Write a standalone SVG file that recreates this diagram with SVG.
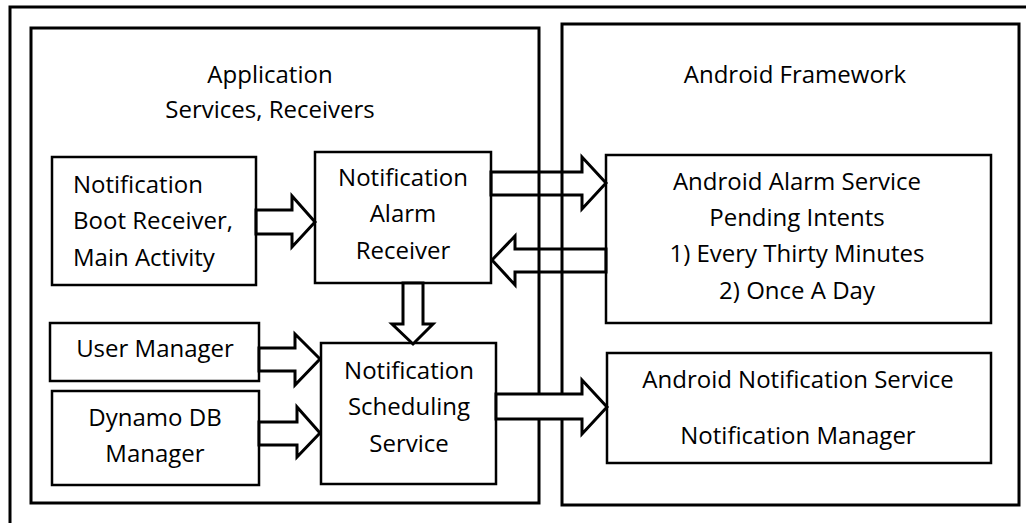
<svg xmlns="http://www.w3.org/2000/svg" width="1026" height="523" viewBox="0 0 1026 523">
<style>
.box{fill:#fff;stroke:#000;stroke-width:2.5}
.cont{fill:none;stroke:#000;stroke-width:3}
.arr{fill:none;stroke:#000;stroke-width:3;stroke-linejoin:miter}
.arrw{fill:#fff;stroke:#000;stroke-width:3;stroke-linejoin:miter}
text{font-family:"Open Sans","Noto Sans",sans-serif;font-size:24px;fill:#000}
.c{text-anchor:middle}
</style>
<rect width="1026" height="523" fill="#fff"/>
<g id="outer"><rect class="cont" x="10" y="7" width="1040" height="540"/></g>
<g id="application">
<rect class="cont" x="31" y="28" width="508" height="475"/>
<text class="c" x="270" y="83">Application</text>
<text class="c" x="270" y="118">Services, Receivers</text>
</g>
<g id="framework">
<rect class="cont" x="562" y="24" width="457" height="481"/>
<text class="c" x="795" y="83">Android Framework</text>
</g>
<g id="boot">
<rect class="box" x="52" y="157" width="204" height="128"/>
<text x="73" y="193">Notification</text>
<text x="73" y="229">Boot Receiver,</text>
<text x="73" y="266">Main Activity</text>
</g>
<g id="alarmreceiver">
<rect class="box" x="315" y="152" width="176" height="131"/>
<text class="c" x="403" y="186">Notification</text>
<text class="c" x="403" y="222">Alarm</text>
<text class="c" x="403" y="259">Receiver</text>
</g>
<g id="alarmservice">
<rect class="box" x="606" y="155" width="385" height="168"/>
<text class="c" x="797" y="190">Android Alarm Service</text>
<text class="c" x="797" y="226">Pending Intents</text>
<text class="c" x="797" y="262">1) Every Thirty Minutes</text>
<text class="c" x="797" y="299">2) Once A Day</text>
</g>
<g id="usermanager">
<rect class="box" x="50" y="323" width="209" height="58"/>
<text class="c" x="155" y="357">User Manager</text>
</g>
<g id="dynamo">
<rect class="box" x="52" y="391" width="207" height="94"/>
<text class="c" x="155" y="426">Dynamo DB</text>
<text class="c" x="155" y="462">Manager</text>
</g>
<g id="scheduling">
<rect class="box" x="321" y="343" width="175" height="141"/>
<text class="c" x="409" y="379">Notification</text>
<text class="c" x="409" y="415">Scheduling</text>
<text class="c" x="409" y="452">Service</text>
</g>
<g id="notifservice">
<rect class="box" x="607" y="353" width="384" height="110"/>
<text class="c" x="798" y="388">Android Notification Service</text>
<text class="c" x="798" y="444">Notification Manager</text>
</g>
<g id="connectors">
<polygon class="arr" points="256,210 292,210 292,196 315,222 292,247 292,234 256,234"/>
<polygon class="arr" points="491,172 582,172 582,157 606,183 582,209 582,195 491,195"/>
<polygon class="arr" points="606,249 515,249 515,236 492,260 515,285 515,272 606,272"/>
<polygon class="arrw" points="403,283 423,283 423,324 433,324 413,344 392,324 403,324"/>
<polygon class="arrw" points="259,348 295,348 295,334 320,359 295,385 295,371 259,371"/>
<polygon class="arrw" points="259,422 297,422 297,407 320,433 297,457 297,445 259,445"/>
<polygon class="arrw" points="496,394 582,394 582,380 607,407 582,434 582,419 496,419"/>
</g>
</svg>
